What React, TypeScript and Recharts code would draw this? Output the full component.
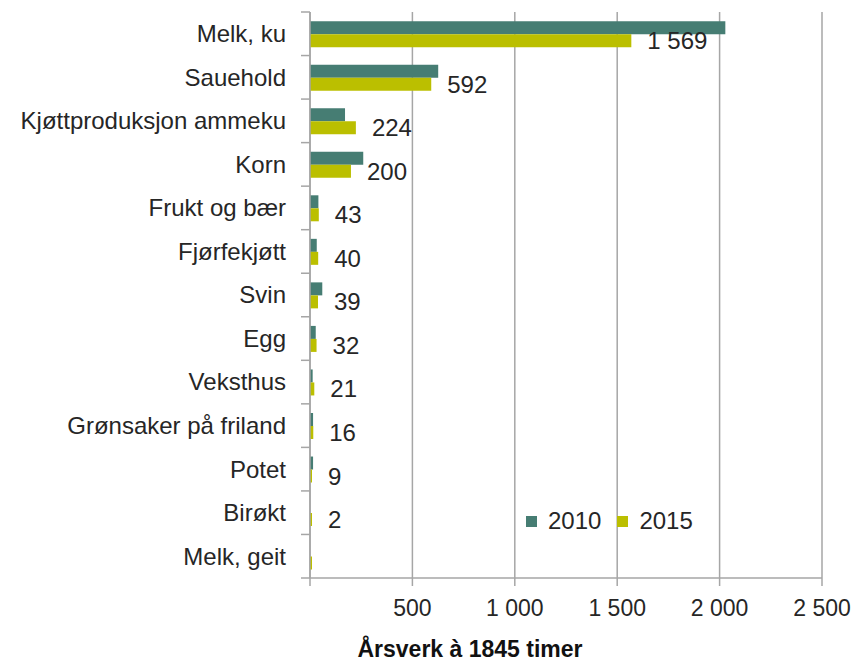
import React from 'react';
import { BarChart, Bar, XAxis, YAxis, CartesianGrid, Legend, LabelList } from 'recharts';

// Data
const categories = [
  'Melk, ku',
  'Sauehold',
  'Kjøttproduksjon ammeku',
  'Korn',
  'Frukt og bær',
  'Fjørfekjøtt',
  'Svin',
  'Egg',
  'Veksthus',
  'Grønsaker på friland',
  'Potet',
  'Birøkt',
  'Melk, geit',
];
const values2010 = [2028, 626, 171, 260, 41, 33, 60, 28, 13, 15, 15, 0, 0];
const values2015 = [1569, 592, 224, 200, 43, 40, 39, 32, 21, 16, 9, 2, 3];
const labels2015 = ['1 569', '592', '224', '200', '43', '40', '39', '32', '21', '16', '9', '2', ''];
const xTicks = [0, 500, 1000, 1500, 2000, 2500];

const COLOR_2010 = '#467D73';
const COLOR_2015 = '#BBBF00';
const GRID = '#A6A6A6';
const TEXT = '#262626';
const FONT = '"Liberation Sans", Arial, sans-serif';

const PLOT_TOP = 12;
const PLOT_BOTTOM = 578;
const AXIS_X = 310;
const BAND = (PLOT_BOTTOM - PLOT_TOP) / categories.length;

const data = categories.map((name, i) => ({
  name,
  v2010: values2010[i],
  v2015: values2015[i],
  label2015: labels2015[i],
}));

const fmt = (n: number) => (n === 0 ? '' : String(n).replace(/\B(?=(\d{3})+(?!\d))/g, ' '));

// Category label plus Excel-style tick marks on the band boundaries
const CategoryTick = ({ x, y, payload, index }: any) => {
  const last = index === categories.length - 1;
  return (
    <g>
      <line x1={AXIS_X - 9} x2={AXIS_X} y1={y - BAND / 2} y2={y - BAND / 2} stroke={GRID} strokeWidth={1.5} />
      {last && (
        <line x1={AXIS_X - 9} x2={AXIS_X} y1={y + BAND / 2} y2={y + BAND / 2} stroke={GRID} strokeWidth={1.5} />
      )}
      <text x={x} y={y} dy="0.35em" textAnchor="end" fontSize={24} fill={TEXT} fontFamily={FONT}>
        {payload.value}
      </text>
    </g>
  );
};

const LegendContent = () => (
  <div
    style={{
      display: 'flex',
      alignItems: 'center',
      fontFamily: FONT,
      fontSize: 24,
      color: TEXT,
      whiteSpace: 'nowrap',
      width: 220,
    }}
  >
    <span style={{ width: 11, height: 11, background: COLOR_2010, display: 'inline-block' }} />
    <span style={{ marginLeft: 11 }}>2010</span>
    <span style={{ width: 11, height: 11, background: COLOR_2015, display: 'inline-block', marginLeft: 16 }} />
    <span style={{ marginLeft: 11 }}>2015</span>
  </div>
);

const App: React.FC = () => {
  return (
    <div style={{ position: 'absolute', left: 0, top: 0, width: 855, height: 662, background: '#fff' }}>
      <BarChart
        width={855}
        height={662}
        data={data}
        layout="vertical"
        margin={{ top: PLOT_TOP, right: 33, bottom: 0, left: 0 }}
        barCategoryGap="21%"
        barGap={0}
      >
        <CartesianGrid horizontal={false} stroke={GRID} strokeWidth={1.5} />
        <XAxis
          type="number"
          domain={[0, 2500]}
          ticks={xTicks}
          tickFormatter={fmt}
          height={84}
          tickSize={8}
          tickMargin={14}
          axisLine={{ stroke: GRID, strokeWidth: 1.5 }}
          tickLine={{ stroke: GRID, strokeWidth: 1.5 }}
          tick={{ fontSize: 23, fill: TEXT, fontFamily: FONT }}
          label={{
            value: 'Årsverk à 1845 timer',
            position: 'insideBottom',
            offset: 5,
            dx: -96,
            style: { fontSize: 23, fontWeight: 'bold', fill: '#111', fontFamily: FONT },
          }}
        />
        <YAxis
          type="category"
          dataKey="name"
          width={AXIS_X}
          tickSize={0}
          tickMargin={24}
          tickLine={false}
          axisLine={{ stroke: GRID, strokeWidth: 1.5 }}
          tick={<CategoryTick />}
          interval={0}
        />
        <Legend
          content={<LegendContent />}
          wrapperStyle={{ position: 'absolute', left: 526, top: 507, width: 0, height: 0, overflow: 'visible' }}
        />
        <Bar dataKey="v2010" name="2010" fill={COLOR_2010} isAnimationActive={false} />
        <Bar dataKey="v2015" name="2015" fill={COLOR_2015} minPointSize={2} isAnimationActive={false}>
          <LabelList dataKey="label2015" position="right" offset={16} fontSize={24} fill={TEXT} fontFamily={FONT} />
        </Bar>
      </BarChart>
    </div>
  );
};

export default App;
